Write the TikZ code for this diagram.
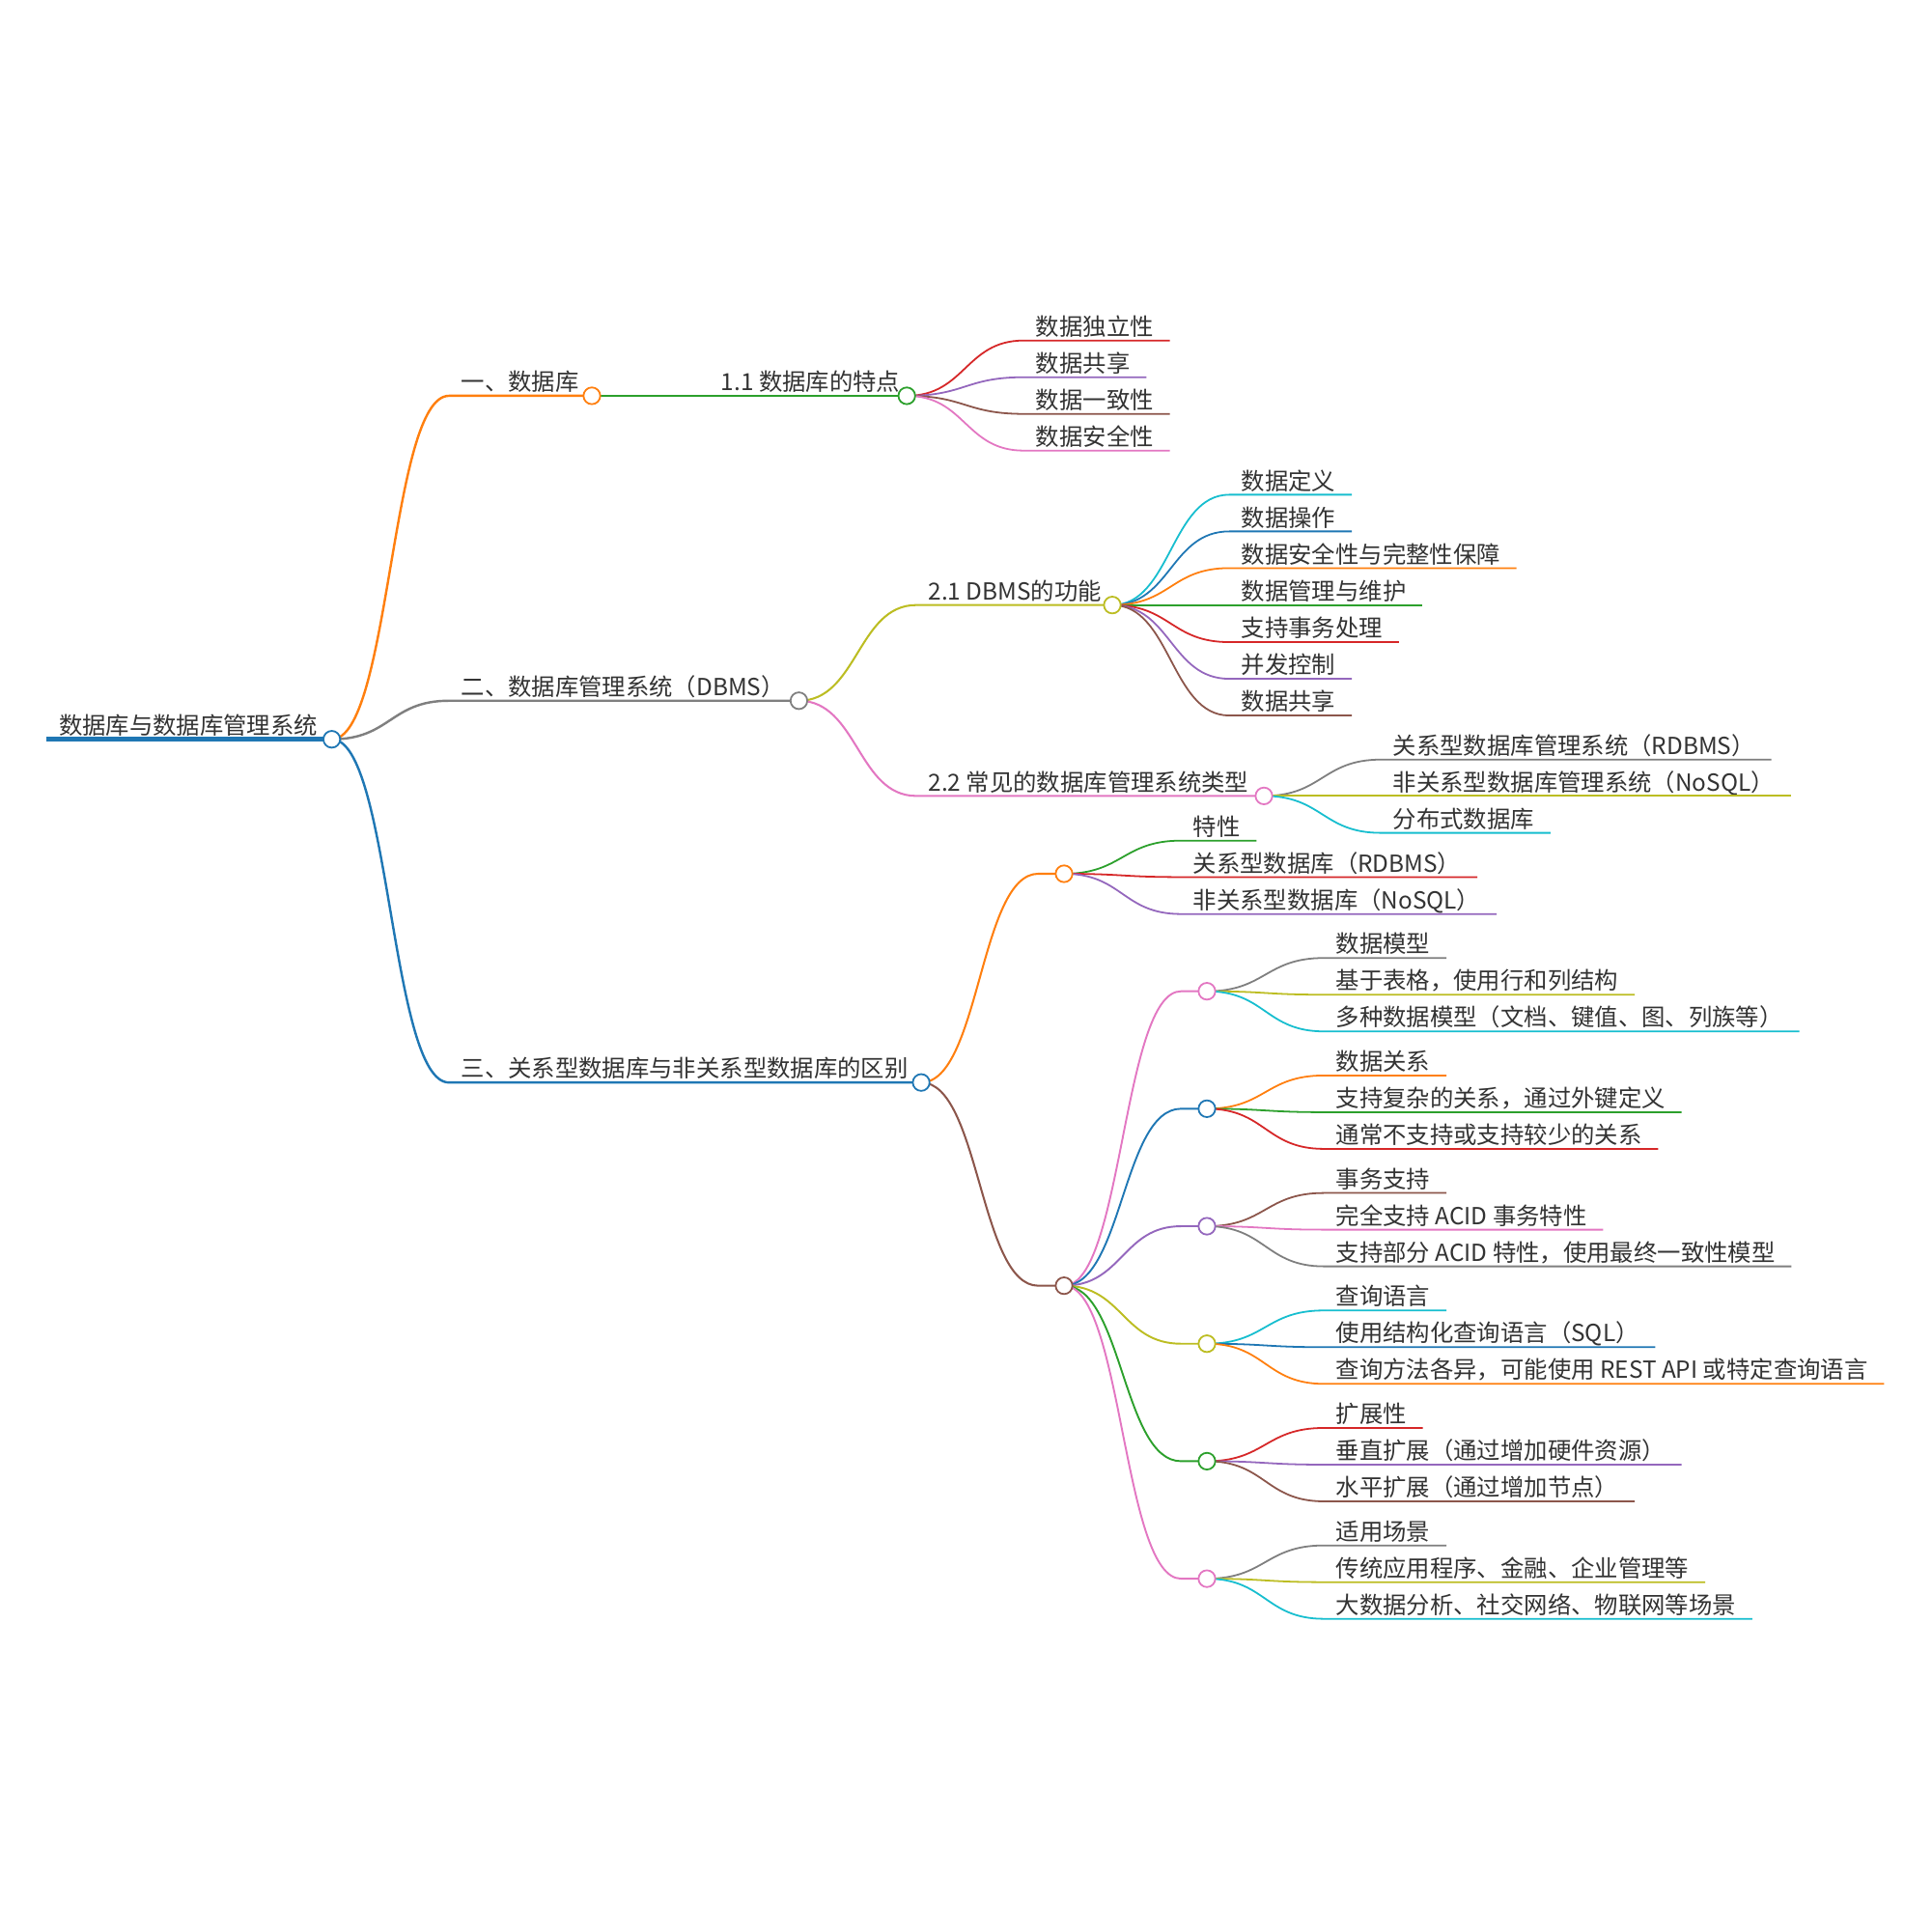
\documentclass[tikz,border=0pt]{standalone}
\usepackage{fontspec}
\setmainfont{Noto Sans CJK SC}
\usetikzlibrary{calc}
\definecolor{cBlue}{HTML}{1F77B4}
\definecolor{cOrange}{HTML}{FF7F0E}
\definecolor{cGreen}{HTML}{2CA02C}
\definecolor{cRed}{HTML}{D62728}
\definecolor{cPurple}{HTML}{9467BD}
\definecolor{cBrown}{HTML}{8C564B}
\definecolor{cPink}{HTML}{E377C2}
\definecolor{cGray}{HTML}{7F7F7F}
\definecolor{cOlive}{HTML}{BCBD22}
\definecolor{cCyan}{HTML}{17BECF}
\tikzset{
  lbl/.style={anchor=base west, inner sep=0pt, text=black!80, font=\fontsize{19.1}{23}\selectfont},
  knob/.style={circle, draw, fill=white, minimum size=13.6pt, inner sep=0pt, line width=1.4pt},
  mmlink/.style={to path={let \p1=(\tikztostart), \p2=(\tikztotarget) in .. controls ({(\x1+\x2)/2},\y1) and ({(\x1+\x2)/2},\y2) .. (\tikztotarget)}},
}
% leaf: parent, name, x0, y, color, text
\newcommand\mmleaf[6]{%
  \coordinate (#2-s) at (#3,#4);
  \node[lbl] (#2) at (#3+9.7,#4-4.2) {#6};
  \coordinate (#2-e) at ($(#2.east |- #2-s)+(13,0)$);
  \draw[#5, line width=1.4pt] (#1-e) to[mmlink] (#2-s) -- (#2-e);
}
% inner node: parent, name, x0, y, color, width, text, circle x
\newcommand\mmpar[8]{%
  \coordinate (#2-s) at (#3,#4);
  \coordinate (#2-e) at (#8,#4);
  \node[lbl] (#2) at (#3+9.7,#4-4.2) {#7};
  \draw[#5, line width=#6] (#1-e) to[mmlink] (#2-s) -- (#2-e);
}
% three leaves under an empty node: parent, y, c1, t1, c2, t2, c3, t3
\newcommand\mmtrio[8]{%
  \mmleaf{#1}{#1a}{1075}{#2-27}{#3}{#4}
  \mmleaf{#1}{#1b}{1075}{#2+2.8}{#5}{#6}
  \mmleaf{#1}{#1c}{1075}{#2+32.6}{#7}{#8}
}
\newcommand\mmknob[2]{\node[knob, draw=#2] (#1-k) at (#1-e) {};}
\begin{document}
\begin{tikzpicture}[x=1pt,y=-1pt]
\fill[white] (0,0) rectangle (1568,1568);
\useasboundingbox (0,0) rectangle (1568,1568);
% root
\coordinate (r-s) at (38,600.3);
\coordinate (r-e) at (269.4,600.3);
\node[lbl] (r) at (47.7,596) {数据库与数据库管理系统};
\draw[cBlue, line width=3.6pt] (r-s) -- (r-e);
% branch 1
\mmpar{r}{n1}{364.6}{321.4}{cOrange}{1.9pt}{一、数据库}{480.6}
\mmpar{n1}{n11}{575.6}{321.4}{cGreen}{1.6pt}{1.1 数据库的特点}{736.3}
\mmleaf{n11}{l11a}{831.3}{276.5}{cRed}{数据独立性}
\mmleaf{n11}{l11b}{831.3}{306.3}{cPurple}{数据共享}
\mmleaf{n11}{l11c}{831.3}{336.1}{cBrown}{数据一致性}
\mmleaf{n11}{l11d}{831.3}{365.9}{cPink}{数据安全性}
% branch 2
\mmpar{r}{n2}{364.6}{569}{cGray}{1.9pt}{二、数据库管理系统（DBMS）}{648.7}
\mmpar{n2}{n21}{744}{491.3}{cOlive}{1.6pt}{2.1 DBMS的功能}{903.2}
\mmleaf{n21}{l21a}{998.2}{401.7}{cCyan}{数据定义}
\mmleaf{n21}{l21b}{998.2}{431.5}{cBlue}{数据操作}
\mmleaf{n21}{l21c}{998.2}{461.3}{cOrange}{数据安全性与完整性保障}
\mmleaf{n21}{l21d}{998.2}{491.3}{cGreen}{数据管理与维护}
\mmleaf{n21}{l21e}{998.2}{521.4}{cRed}{支持事务处理}
\mmleaf{n21}{l21f}{998.2}{551.2}{cPurple}{并发控制}
\mmleaf{n21}{l21g}{998.2}{581.0}{cBrown}{数据共享}
\mmpar{n2}{n22}{744}{646.3}{cPink}{1.6pt}{2.2 常见的数据库管理系统类型}{1026.3}
\mmleaf{n22}{l22a}{1121.3}{616.8}{cGray}{关系型数据库管理系统（RDBMS）}
\mmleaf{n22}{l22b}{1121.3}{646.3}{cOlive}{非关系型数据库管理系统（NoSQL）}
\mmleaf{n22}{l22c}{1121.3}{676.3}{cCyan}{分布式数据库}
% branch 3
\mmpar{r}{n3}{364.6}{879}{cBlue}{1.9pt}{三、关系型数据库与非关系型数据库的区别}{748}
\mmpar{n3}{nA}{843}{709.5}{cOrange}{1.6pt}{}{864}
\mmleaf{nA}{lAa}{959}{682.6}{cGreen}{特性}
\mmleaf{nA}{lAb}{959}{712.2}{cRed}{关系型数据库（RDBMS）}
\mmleaf{nA}{lAc}{959}{742.2}{cPurple}{非关系型数据库（NoSQL）}
\mmpar{n3}{nB}{843}{1044}{cBrown}{1.6pt}{}{864}
\mmpar{nB}{bA}{959}{804.9}{cPink}{1.5pt}{}{980}
\mmpar{nB}{bB}{959}{900.3}{cBlue}{1.5pt}{}{980}
\mmpar{nB}{bC}{959}{995.7}{cPurple}{1.5pt}{}{980}
\mmpar{nB}{bD}{959}{1091.1}{cOlive}{1.5pt}{}{980}
\mmpar{nB}{bE}{959}{1186.5}{cGreen}{1.5pt}{}{980}
\mmpar{nB}{bF}{959}{1281.9}{cPink}{1.5pt}{}{980}
\mmtrio{bA}{804.9}{cGray}{数据模型}{cOlive}{基于表格，使用行和列结构}{cCyan}{多种数据模型（文档、键值、图、列族等）}
\mmtrio{bB}{900.3}{cOrange}{数据关系}{cGreen}{支持复杂的关系，通过外键定义}{cRed}{通常不支持或支持较少的关系}
\mmtrio{bC}{995.7}{cBrown}{事务支持}{cPink}{完全支持 ACID 事务特性}{cGray}{支持部分 ACID 特性，使用最终一致性模型}
\mmtrio{bD}{1091.1}{cCyan}{查询语言}{cBlue}{使用结构化查询语言（SQL）}{cOrange}{查询方法各异，可能使用 REST API 或特定查询语言}
\mmtrio{bE}{1186.5}{cRed}{扩展性}{cPurple}{垂直扩展（通过增加硬件资源）}{cBrown}{水平扩展（通过增加节点）}
\mmtrio{bF}{1281.9}{cGray}{适用场景}{cOlive}{传统应用程序、金融、企业管理等}{cCyan}{大数据分析、社交网络、物联网等场景}
% circles on top
\mmknob{r}{cBlue}
\mmknob{n1}{cOrange}
\mmknob{n11}{cGreen}
\mmknob{n2}{cGray}
\mmknob{n21}{cOlive}
\mmknob{n22}{cPink}
\mmknob{n3}{cBlue}
\mmknob{nA}{cOrange}
\mmknob{nB}{cBrown}
\mmknob{bA}{cPink}
\mmknob{bB}{cBlue}
\mmknob{bC}{cPurple}
\mmknob{bD}{cOlive}
\mmknob{bE}{cGreen}
\mmknob{bF}{cPink}
\end{tikzpicture}
\end{document}
